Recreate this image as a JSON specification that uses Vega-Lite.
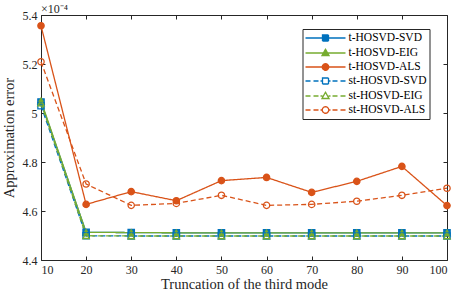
{
  "$schema": "https://vega.github.io/schema/vega-lite/v6.json",
  "width": 406,
  "height": 245,
  "autosize": "none",
  "padding": {"left": 41, "top": 15, "right": 10, "bottom": 34},
  "background": "white",
  "title": {"text": "×10⁻⁴", "anchor": "start", "frame": "group", "offset": 2, "dy": 9, "font": "Liberation Serif", "fontSize": 12, "fontWeight": "normal", "color": "#262626"},
  "config": {
    "view": {"stroke": "#262626", "strokeWidth": 1},
    "axis": {"domain": false, "grid": false, "tickColor": "#262626", "tickSize": -4, "labelPadding": 8, "labelFont": "Liberation Serif", "labelFontSize": 12, "labelColor": "#262626", "titleFont": "Liberation Serif", "titleFontSize": 14.5, "titleFontWeight": "normal", "titleColor": "#262626"}
  },
  "data": {"values": [
    {"x": 10, "s": "t-HOSVD-SVD", "m": "SVD", "k": "t", "v": 5.045}, {"x": 20, "s": "t-HOSVD-SVD", "m": "SVD", "k": "t", "v": 4.513}, {"x": 30, "s": "t-HOSVD-SVD", "m": "SVD", "k": "t", "v": 4.512}, {"x": 40, "s": "t-HOSVD-SVD", "m": "SVD", "k": "t", "v": 4.511}, {"x": 50, "s": "t-HOSVD-SVD", "m": "SVD", "k": "t", "v": 4.511}, {"x": 60, "s": "t-HOSVD-SVD", "m": "SVD", "k": "t", "v": 4.511}, {"x": 70, "s": "t-HOSVD-SVD", "m": "SVD", "k": "t", "v": 4.511}, {"x": 80, "s": "t-HOSVD-SVD", "m": "SVD", "k": "t", "v": 4.511}, {"x": 90, "s": "t-HOSVD-SVD", "m": "SVD", "k": "t", "v": 4.511}, {"x": 100, "s": "t-HOSVD-SVD", "m": "SVD", "k": "t", "v": 4.511},
    {"x": 10, "s": "t-HOSVD-EIG", "m": "EIG", "k": "t", "v": 5.05}, {"x": 20, "s": "t-HOSVD-EIG", "m": "EIG", "k": "t", "v": 4.513}, {"x": 30, "s": "t-HOSVD-EIG", "m": "EIG", "k": "t", "v": 4.512}, {"x": 40, "s": "t-HOSVD-EIG", "m": "EIG", "k": "t", "v": 4.511}, {"x": 50, "s": "t-HOSVD-EIG", "m": "EIG", "k": "t", "v": 4.511}, {"x": 60, "s": "t-HOSVD-EIG", "m": "EIG", "k": "t", "v": 4.511}, {"x": 70, "s": "t-HOSVD-EIG", "m": "EIG", "k": "t", "v": 4.511}, {"x": 80, "s": "t-HOSVD-EIG", "m": "EIG", "k": "t", "v": 4.511}, {"x": 90, "s": "t-HOSVD-EIG", "m": "EIG", "k": "t", "v": 4.511}, {"x": 100, "s": "t-HOSVD-EIG", "m": "EIG", "k": "t", "v": 4.511},
    {"x": 10, "s": "t-HOSVD-ALS", "m": "ALS", "k": "t", "v": 5.356}, {"x": 20, "s": "t-HOSVD-ALS", "m": "ALS", "k": "t", "v": 4.627}, {"x": 30, "s": "t-HOSVD-ALS", "m": "ALS", "k": "t", "v": 4.679}, {"x": 40, "s": "t-HOSVD-ALS", "m": "ALS", "k": "t", "v": 4.642}, {"x": 50, "s": "t-HOSVD-ALS", "m": "ALS", "k": "t", "v": 4.724}, {"x": 60, "s": "t-HOSVD-ALS", "m": "ALS", "k": "t", "v": 4.737}, {"x": 70, "s": "t-HOSVD-ALS", "m": "ALS", "k": "t", "v": 4.676}, {"x": 80, "s": "t-HOSVD-ALS", "m": "ALS", "k": "t", "v": 4.721}, {"x": 90, "s": "t-HOSVD-ALS", "m": "ALS", "k": "t", "v": 4.782}, {"x": 100, "s": "t-HOSVD-ALS", "m": "ALS", "k": "t", "v": 4.622},
    {"x": 10, "s": "st-HOSVD-SVD", "m": "SVD", "k": "st", "v": 5.03}, {"x": 20, "s": "st-HOSVD-SVD", "m": "SVD", "k": "st", "v": 4.499}, {"x": 30, "s": "st-HOSVD-SVD", "m": "SVD", "k": "st", "v": 4.498}, {"x": 40, "s": "st-HOSVD-SVD", "m": "SVD", "k": "st", "v": 4.498}, {"x": 50, "s": "st-HOSVD-SVD", "m": "SVD", "k": "st", "v": 4.498}, {"x": 60, "s": "st-HOSVD-SVD", "m": "SVD", "k": "st", "v": 4.498}, {"x": 70, "s": "st-HOSVD-SVD", "m": "SVD", "k": "st", "v": 4.498}, {"x": 80, "s": "st-HOSVD-SVD", "m": "SVD", "k": "st", "v": 4.498}, {"x": 90, "s": "st-HOSVD-SVD", "m": "SVD", "k": "st", "v": 4.498}, {"x": 100, "s": "st-HOSVD-SVD", "m": "SVD", "k": "st", "v": 4.498},
    {"x": 10, "s": "st-HOSVD-EIG", "m": "EIG", "k": "st", "v": 5.04}, {"x": 20, "s": "st-HOSVD-EIG", "m": "EIG", "k": "st", "v": 4.499}, {"x": 30, "s": "st-HOSVD-EIG", "m": "EIG", "k": "st", "v": 4.498}, {"x": 40, "s": "st-HOSVD-EIG", "m": "EIG", "k": "st", "v": 4.498}, {"x": 50, "s": "st-HOSVD-EIG", "m": "EIG", "k": "st", "v": 4.498}, {"x": 60, "s": "st-HOSVD-EIG", "m": "EIG", "k": "st", "v": 4.498}, {"x": 70, "s": "st-HOSVD-EIG", "m": "EIG", "k": "st", "v": 4.498}, {"x": 80, "s": "st-HOSVD-EIG", "m": "EIG", "k": "st", "v": 4.498}, {"x": 90, "s": "st-HOSVD-EIG", "m": "EIG", "k": "st", "v": 4.498}, {"x": 100, "s": "st-HOSVD-EIG", "m": "EIG", "k": "st", "v": 4.498},
    {"x": 10, "s": "st-HOSVD-ALS", "m": "ALS", "k": "st", "v": 5.209}, {"x": 20, "s": "st-HOSVD-ALS", "m": "ALS", "k": "st", "v": 4.71}, {"x": 30, "s": "st-HOSVD-ALS", "m": "ALS", "k": "st", "v": 4.623}, {"x": 40, "s": "st-HOSVD-ALS", "m": "ALS", "k": "st", "v": 4.631}, {"x": 50, "s": "st-HOSVD-ALS", "m": "ALS", "k": "st", "v": 4.664}, {"x": 60, "s": "st-HOSVD-ALS", "m": "ALS", "k": "st", "v": 4.623}, {"x": 70, "s": "st-HOSVD-ALS", "m": "ALS", "k": "st", "v": 4.627}, {"x": 80, "s": "st-HOSVD-ALS", "m": "ALS", "k": "st", "v": 4.64}, {"x": 90, "s": "st-HOSVD-ALS", "m": "ALS", "k": "st", "v": 4.664}, {"x": 100, "s": "st-HOSVD-ALS", "m": "ALS", "k": "st", "v": 4.693}
  ]},
  "layer": [
    {
      "mark": {"type": "line", "strokeWidth": 1.3},
      "encoding": {
        "x": {"field": "x", "type": "quantitative", "scale": {"domain": [10, 100], "nice": false, "zero": false}, "axis": {"values": [10, 20, 30, 40, 50, 60, 70, 80, 90, 100], "title": "Truncation of the third mode", "titlePadding": 2}},
        "y": {"field": "v", "type": "quantitative", "scale": {"domain": [4.4, 5.4], "nice": false, "zero": false}, "axis": {"values": [4.4, 4.6, 4.8, 5, 5.2, 5.4], "format": ".1~f", "title": "Approximation error", "titlePadding": 6}},
        "stroke": {"field": "s", "type": "nominal", "scale": {"domain": ["t-HOSVD-SVD", "t-HOSVD-EIG", "t-HOSVD-ALS", "st-HOSVD-SVD", "st-HOSVD-EIG", "st-HOSVD-ALS"], "range": ["#0072BD", "#77AC30", "#D95319", "#0072BD", "#77AC30", "#D95319"]},
          "legend": {
            "orient": "none", "legendX": 261.5, "legendY": 14, "title": null,
            "strokeColor": "#262626", "fillColor": "white", "padding": 3,
            "symbolSize": 100, "symbolOffset": 14, "labelOffset": 17, "symbolStrokeWidth": 1.3,
            "labelFont": "Liberation Serif", "labelFontSize": 11.5, "labelColor": "#000000", "rowPadding": 2,
            "encode": {"symbols": {"update": {
              "shape": {"signal": "['M-4,0H4M-0.6,-0.6H0.6V0.6H-0.6Z', 'M-4,0H4M0,-0.75L0.7,0.5L-0.7,0.5Z', 'M-4,0H4M0.65,0A0.65,0.65 0 1 1 -0.65,0A0.65,0.65 0 1 1 0.65,0Z', 'M-4,0H-3M-2.4,0H-1.4M-1,0H-0.6M0.6,0H1M1.4,0H2.4M3,0H4M-0.6,-0.6H0.6V0.6H-0.6Z', 'M-4,0H-3M-2.4,0H-1.4M-1,0H-0.6M0.6,0H1M1.4,0H2.4M3,0H4M0,-0.75L0.7,0.5L-0.7,0.5Z', 'M-4,0H-3M-2.4,0H-1.4M-1,0H-0.65M0.65,0H1M1.4,0H2.4M3,0H4M0.65,0A0.65,0.65 0 1 1 -0.65,0A0.65,0.65 0 1 1 0.65,0Z'][indexof(['t-HOSVD-SVD', 't-HOSVD-EIG', 't-HOSVD-ALS', 'st-HOSVD-SVD', 'st-HOSVD-EIG', 'st-HOSVD-ALS'], datum.value)]"},
              "fill": {"signal": "['#0072BD', '#77AC30', '#D95319', 'white', 'white', 'white'][indexof(['t-HOSVD-SVD', 't-HOSVD-EIG', 't-HOSVD-ALS', 'st-HOSVD-SVD', 'st-HOSVD-EIG', 'st-HOSVD-ALS'], datum.value)]"},
              "strokeDash": {"value": [1, 0]},
              "opacity": {"value": 1}
            }}}
          }},
        "strokeDash": {"field": "k", "type": "nominal", "scale": {"domain": ["t", "st"], "range": [[1, 0], [5, 3]]}, "legend": null}
      }
    },
    {
      "mark": {"type": "point", "size": 40, "strokeWidth": 1.3, "opacity": 1},
      "encoding": {
        "x": {"field": "x", "type": "quantitative", "axis": null},
        "y": {"field": "v", "type": "quantitative", "axis": null},
        "stroke": {"field": "s", "type": "nominal"},
        "fill": {"field": "s", "type": "nominal", "scale": {"range": ["rgba(255,255,255,0)", "rgba(255,255,255,0)", "rgba(255,255,255,0)", "#D95319", "#77AC30", "#0072BD"]}, "legend": null},
        "shape": {"field": "m", "type": "nominal", "scale": {"domain": ["SVD", "EIG", "ALS"], "range": ["square", "triangle-up", "circle"]}, "legend": null}
      }
    },
    {
      "mark": {"type": "point", "opacity": 0},
      "encoding": {
        "x": {"field": "x", "type": "quantitative", "axis": {"orient": "top", "values": [10, 20, 30, 40, 50, 60, 70, 80, 90, 100], "labels": false, "labelPadding": 0, "title": null}},
        "y": {"field": "v", "type": "quantitative", "axis": {"orient": "right", "values": [4.4, 4.6, 4.8, 5, 5.2, 5.4], "labels": false, "labelPadding": 0, "title": null}}
      }
    }
  ],
  "resolve": {"axis": {"x": "independent", "y": "independent"}}
}
